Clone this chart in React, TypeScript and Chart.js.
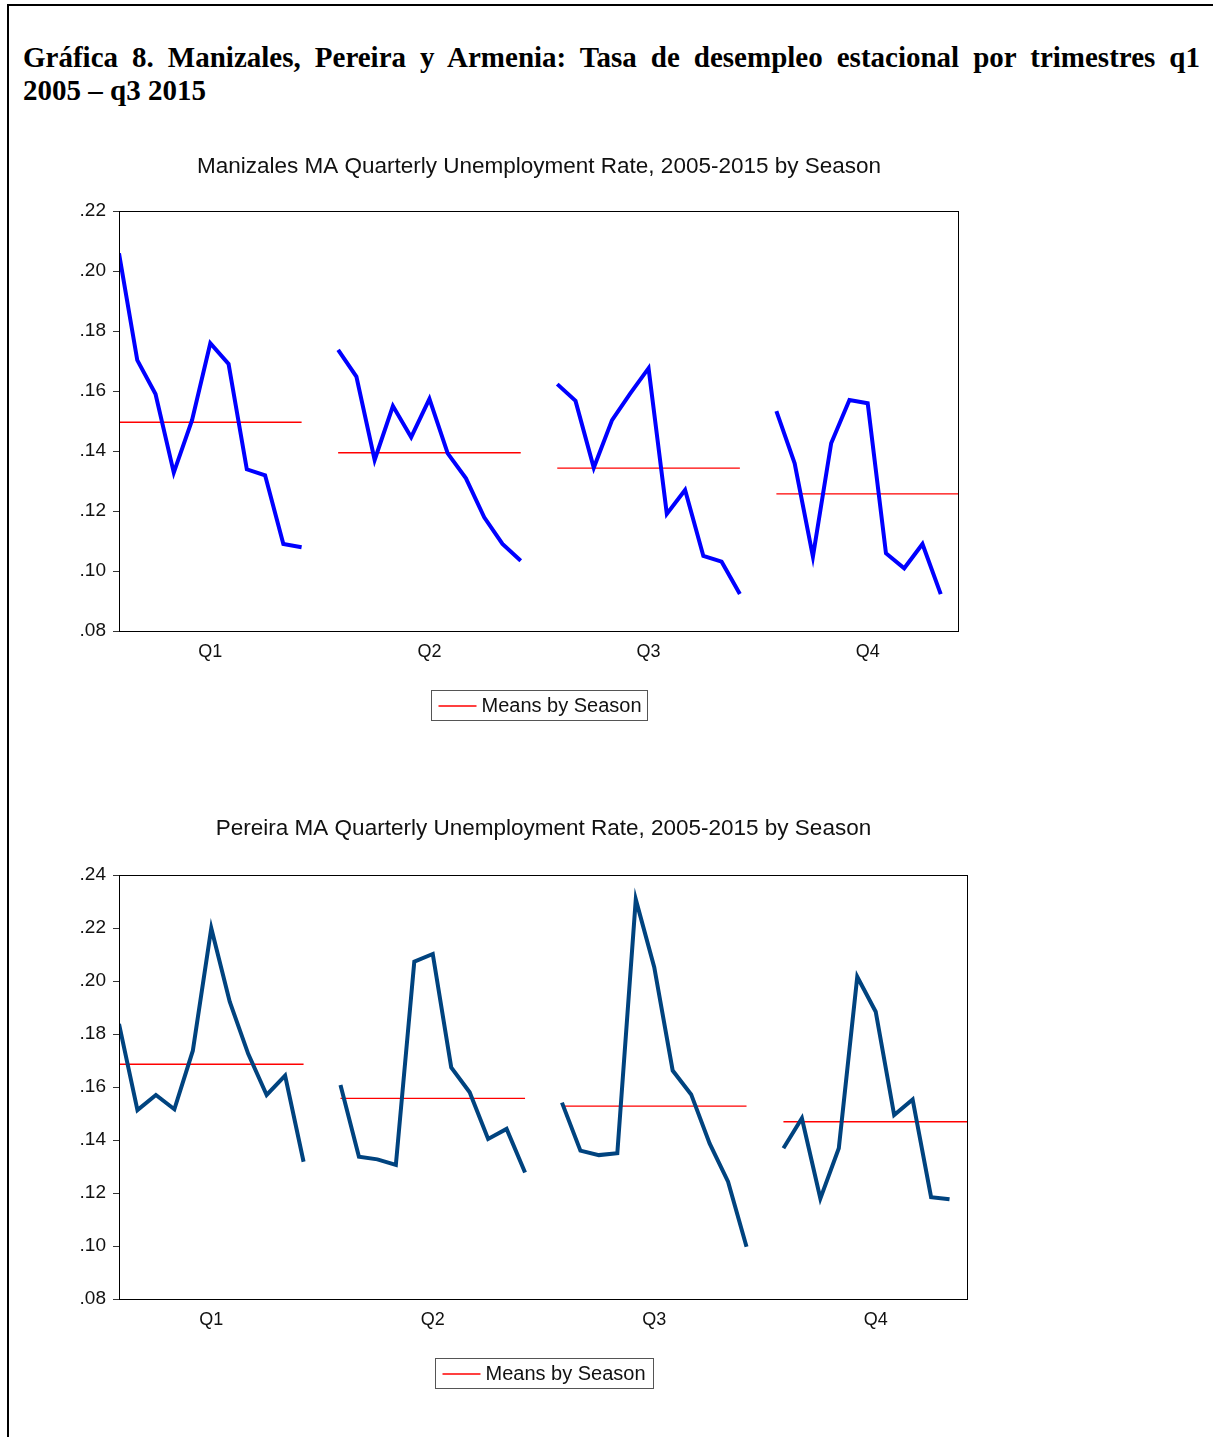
import React, { useEffect, useRef } from "react";
import { Chart, registerables } from "chart.js";

Chart.register(...registerables);

// ---------- data ----------
const seasonLabels = ["Q1", "Q2", "Q3", "Q4"];
const meansLabel = "Means by Season";

const manizalesQ1 = [0.2059, 0.1703, 0.159, 0.1328, 0.1503, 0.1759, 0.169, 0.1339, 0.1319, 0.109, 0.1079];
const manizalesQ2 = [0.1737, 0.1648, 0.137, 0.155, 0.1446, 0.1574, 0.1392, 0.1309, 0.1179, 0.109, 0.1034];
const manizalesQ3 = [0.1623, 0.1567, 0.1344, 0.1503, 0.1592, 0.1676, 0.119, 0.127, 0.105, 0.1031, 0.0923];
const manizalesQ4 = [0.1533, 0.1359, 0.1048, 0.1426, 0.157, 0.1559, 0.1059, 0.1009, 0.109, 0.0923];
const manizalesMeans = [0.1496, 0.1394, 0.1343, 0.1257];

const pereiraQ1 = [0.1838, 0.1513, 0.157, 0.1516, 0.1737, 0.2199, 0.1922, 0.1725, 0.157, 0.1643, 0.1318];
const pereiraQ2 = [0.1608, 0.1337, 0.1327, 0.1306, 0.2073, 0.2102, 0.1674, 0.158, 0.1404, 0.1442, 0.1277];
const pereiraQ3 = [0.1541, 0.136, 0.1343, 0.135, 0.2308, 0.2052, 0.1662, 0.1572, 0.1387, 0.1243, 0.0997];
const pereiraQ4 = [0.1369, 0.1482, 0.1179, 0.1369, 0.2016, 0.1884, 0.1494, 0.1553, 0.1184, 0.1176];
const pereiraMeans = [0.1686, 0.1557, 0.1528, 0.1469];

const manizalesTitle = "Manizales MA Quarterly Unemployment Rate, 2005-2015 by Season";
const pereiraTitle = "Pereira MA Quarterly Unemployment Rate, 2005-2015 by Season";

// slot layout: 11 years per season, one empty slot between seasons
const SEASON_SPAN = 12;
const YEARS_PER_SEASON = 11;

const FONT = "'Liberation Sans', Arial, Helvetica, sans-serif";
const MEAN_COLOR = "#ff0000";

const framePlugin = {
  id: "frameDecor",
  afterDraw(chart: any, _args: any, opts: any) {
    const { ctx, chartArea: a } = chart;
    ctx.save();
    // plot frame
    ctx.strokeStyle = "#000";
    ctx.lineWidth = 1;
    ctx.strokeRect(
      Math.round(a.left) + 0.5,
      Math.round(a.top) + 0.5,
      Math.round(a.right - a.left) - 1,
      Math.round(a.bottom - a.top)
    );
    const cx = (a.left + a.right) / 2;
    // title
    ctx.fillStyle = "#111";
    ctx.font = `${opts.titleSize}px ${FONT}`;
    ctx.textAlign = "center";
    ctx.textBaseline = "middle";
    ctx.fillText(opts.title, cx, a.top - opts.titleGap);
    // legend box
    const w = opts.legendW;
    const h = opts.legendH;
    const lx = Math.round(cx - w / 2) + 0.5;
    const ly = Math.round(a.bottom + opts.legendGap) + 0.5;
    ctx.strokeStyle = "#555";
    ctx.lineWidth = 1;
    ctx.strokeRect(lx, ly, w, h);
    ctx.strokeStyle = MEAN_COLOR;
    ctx.lineWidth = 1.3;
    ctx.beginPath();
    ctx.moveTo(lx + 7, Math.round(ly + h / 2));
    ctx.lineTo(lx + 45, Math.round(ly + h / 2));
    ctx.stroke();
    ctx.fillStyle = "#111";
    ctx.font = `${opts.legendSize}px ${FONT}`;
    ctx.textAlign = "left";
    ctx.fillText(meansLabel, lx + 50, ly + h / 2 + 1);
    ctx.restore();
  },
};

function buildDatasets(series: number[][], means: number[], color: string) {
  const ds: any[] = [];
  series.forEach((vals, s) => {
    ds.push({
      label: seasonLabels[s],
      data: vals.map((v, i) => ({ x: s * SEASON_SPAN + i, y: v })),
      borderColor: color,
      borderWidth: 4,
      pointRadius: 0,
      tension: 0,
      borderJoinStyle: "miter",
      borderCapStyle: "butt",
      fill: false,
    });
  });
  means.forEach((m, s) => {
    ds.push({
      label: meansLabel,
      data: [
        { x: s * SEASON_SPAN, y: m },
        { x: s * SEASON_SPAN + YEARS_PER_SEASON - 1, y: m },
      ],
      borderColor: MEAN_COLOR,
      borderWidth: 1.4,
      pointRadius: 0,
      fill: false,
    });
  });
  return ds;
}

type PanelProps = {
  top: number;
  width: number;
  height: number;
  padding: { top: number; right: number; bottom: number; left: number };
  series: number[][];
  means: number[];
  color: string;
  yMin: number;
  yMax: number;
  title: string;
  titleGap: number;
  legendW: number;
};

function Panel(p: PanelProps) {
  const ref = useRef<HTMLCanvasElement>(null);
  useEffect(() => {
    if (!ref.current) return;
    const chart = new Chart(ref.current, {
      type: "line",
      data: { datasets: buildDatasets(p.series, p.means, p.color) },
      plugins: [framePlugin as any],
      options: {
        animation: false,
        responsive: false,
        devicePixelRatio: 1,
        layout: { padding: p.padding },
        plugins: {
          legend: { display: false },
          tooltip: { enabled: false },
          frameDecor: {
            title: p.title,
            titleSize: 22.5,
            titleGap: p.titleGap,
            legendW: p.legendW,
            legendH: 30,
            legendGap: 59,
            legendSize: 20,
          },
        } as any,
        scales: {
          x: {
            type: "linear",
            min: 0,
            max: SEASON_SPAN * seasonLabels.length - 2,
            afterBuildTicks: (scale: any) => {
              scale.ticks = seasonLabels.map((_, s) => ({
                value: s * SEASON_SPAN + (YEARS_PER_SEASON - 1) / 2,
              }));
            },
            afterFit: (scale: any) => {
              scale.height = 40;
            },
            ticks: {
              autoSkip: false,
              maxRotation: 0,
              padding: 10,
              color: "#111",
              font: { family: FONT, size: 18 },
              callback: (v: any) => {
                const s = Math.round((Number(v) - (YEARS_PER_SEASON - 1) / 2) / SEASON_SPAN);
                return seasonLabels[s] ?? "";
              },
            },
            grid: { display: false, drawTicks: false },
            border: { display: false },
          },
          y: {
            type: "linear",
            min: p.yMin,
            max: p.yMax,
            afterFit: (scale: any) => {
              scale.width = 119;
            },
            ticks: {
              stepSize: 0.02,
              padding: 7,
              color: "#111",
              font: { family: FONT, size: 19 },
              callback: (v: any) => Number(v).toFixed(2).replace(/^0/, ""),
            },
            grid: {
              display: true,
              drawOnChartArea: false,
              drawTicks: true,
              tickLength: 6,
              color: "#333",
            },
            border: { display: false },
          },
        },
      },
    });
    return () => chart.destroy();
  }, []);
  return (
    <canvas
      ref={ref}
      width={p.width}
      height={p.height}
      style={{ position: "absolute", left: 0, top: p.top, width: p.width, height: p.height }}
    />
  );
}

export default function App() {
  return (
    <div
      style={{
        position: "absolute",
        left: 0,
        top: 0,
        width: 1213,
        height: 1437,
        overflow: "hidden",
        background: "#fff",
      }}
    >
      <div style={{ position: "absolute", left: 7, top: 4, width: 1206, height: 2, background: "#000" }} />
      <div style={{ position: "absolute", left: 7, top: 4, width: 2, height: 1433, background: "#000" }} />
      <div
        style={{
          position: "absolute",
          left: 23,
          top: 41,
          width: 1177,
          fontFamily: "'Liberation Serif', 'Times New Roman', serif",
          fontWeight: "bold",
          fontSize: 29,
          lineHeight: "33px",
          color: "#000",
        }}
      >
        <div style={{ textAlign: "justify", textAlignLast: "justify" as any }}>
          Gráfica 8. Manizales, Pereira y Armenia: Tasa de desempleo estacional por trimestres q1
        </div>
        <div>2005 – q3 2015</div>
      </div>
      <Panel
        top={130}
        width={1000}
        height={600}
        padding={{ top: 81, right: 41, bottom: 59, left: 0 }}
        series={[manizalesQ1, manizalesQ2, manizalesQ3, manizalesQ4]}
        means={manizalesMeans}
        color="#0000ff"
        yMin={0.08}
        yMax={0.22}
        title={manizalesTitle}
        titleGap={44}
        legendW={216}
      />
      <Panel
        top={800}
        width={1000}
        height={620}
        padding={{ top: 75, right: 32, bottom: 81, left: 0 }}
        series={[pereiraQ1, pereiraQ2, pereiraQ3, pereiraQ4]}
        means={pereiraMeans}
        color="#00437f"
        yMin={0.08}
        yMax={0.24}
        title={pereiraTitle}
        titleGap={46}
        legendW={218}
      />
    </div>
  );
}
